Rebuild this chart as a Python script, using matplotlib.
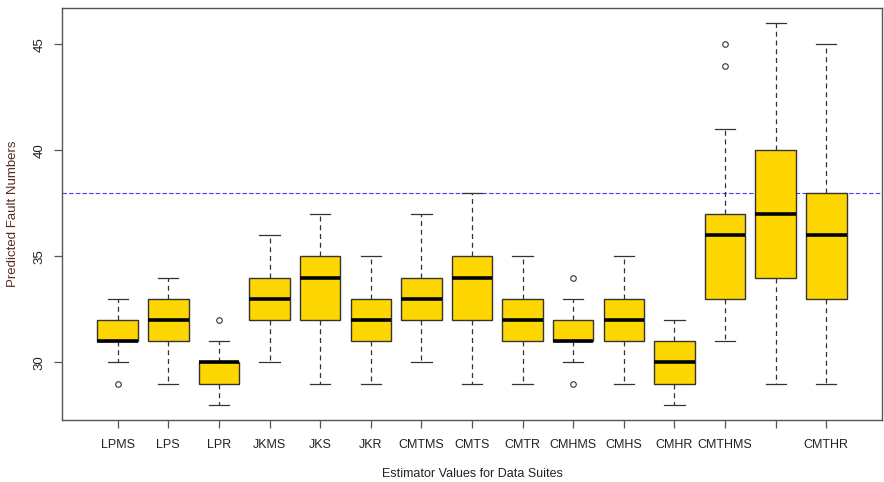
import matplotlib
matplotlib.use("Agg")
import matplotlib.pyplot as plt

labels = ["LPMS", "LPS", "LPR", "JKMS", "JKS", "JKR", "CMTMS", "CMTS", "CMTR",
          "CMHMS", "CMHS", "CMHR", "CMTHMS", "", "CMTHR"]
whisker_lo = [30, 29, 28, 30, 29, 29, 30, 29, 29, 30, 29, 28, 31, 29, 29]
q1         = [31, 31, 29, 32, 32, 31, 32, 32, 31, 31, 31, 29, 33, 34, 33]
medians    = [31, 32, 30, 33, 34, 32, 33, 34, 32, 31, 32, 30, 36, 37, 36]
q3         = [32, 33, 30, 34, 35, 33, 34, 35, 33, 32, 33, 31, 37, 40, 38]
whisker_hi = [33, 34, 31, 36, 37, 35, 37, 38, 35, 33, 35, 32, 41, 46, 45]
outliers   = [[29], [], [32], [], [], [], [], [], [], [29, 34], [], [], [44, 45], [], []]
reference_level = 38
yticks = [30, 35, 40, 45]

plt.rcParams['font.family'] = ['Liberation Sans', 'DejaVu Sans']

fig = plt.figure(figsize=(8.84, 4.82), dpi=100)
ax = fig.add_axes([62 / 884, 62 / 482, 820 / 884, 412 / 482])

stats = []
for i in range(len(labels)):
    stats.append(dict(whislo=whisker_lo[i], q1=q1[i], med=medians[i], q3=q3[i],
                      whishi=whisker_hi[i], fliers=outliers[i], label=labels[i]))

positions = list(range(1, len(labels) + 1))
edge = "#333333"
ax.bxp(stats, positions=positions, widths=0.8, patch_artist=True,
       boxprops=dict(facecolor="#FFD700", edgecolor=edge, linewidth=1.0),
       medianprops=dict(color="black", linewidth=2.6, solid_capstyle="butt"),
       whiskerprops=dict(color=edge, linestyle=(0, (4, 3)), linewidth=0.9),
       capprops=dict(color=edge, linewidth=0.9),
       flierprops=dict(marker="o", markersize=4, markerfacecolor="none",
                       markeredgecolor=edge, markeredgewidth=0.8),
       capwidths=0.4, zorder=3)

ax.axhline(reference_level, color="#4040f0", linestyle=(0, (4, 2)), linewidth=0.8, zorder=2)

ax.set_xlim(-0.1, 16.1)
ax.set_ylim(27.28, 46.72)
ax.set_xticks(positions)
ax.set_xticklabels(labels, fontsize=9, color="#222222")
ax.set_yticks(yticks)
ax.set_yticklabels([str(v) for v in yticks], rotation=90, va="center",
                   fontsize=9.5, color="#222222")
ax.tick_params(axis="both", length=6, width=0.9, color="#555555", pad=6)
ax.tick_params(axis="x", pad=8)

for s in ["left", "bottom", "top", "right"]:
    ax.spines[s].set_color("#555555")
    ax.spines[s].set_linewidth(1.0)

ax.set_xlabel("Estimator Values for Data Suites", fontsize=9, color="#222222", labelpad=12)
ax.set_ylabel("Predicted Fault Numbers", fontsize=9.5, color="#5a2a1e", labelpad=10)

fig.savefig("out.png", dpi=100)
